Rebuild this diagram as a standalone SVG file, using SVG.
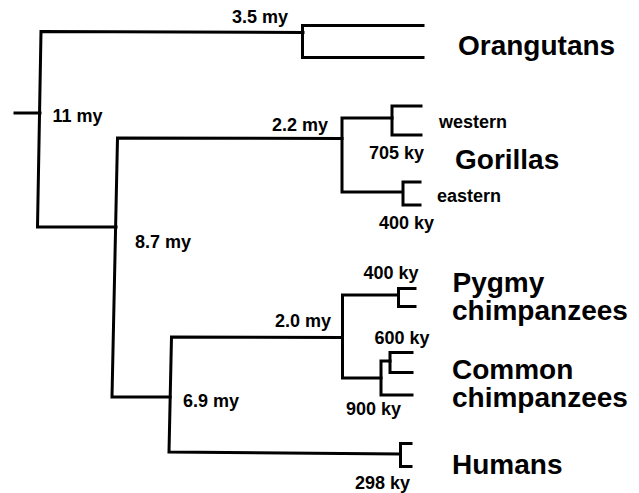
<svg xmlns="http://www.w3.org/2000/svg" width="639" height="493" viewBox="0 0 639 493">
<style>
.t{font-family:"Liberation Sans",Arial,Helvetica,sans-serif;font-weight:bold;fill:#000}
.s{font-size:18px}
.b{font-size:28px}
.ln{fill:none;stroke:#000;stroke-width:3;stroke-linejoin:miter;stroke-linecap:square}
</style>
<rect width="639" height="493" fill="#fff"/>
<g id="connectors" class="ln">
  <path d="M15,113 H40"/>
  <path d="M303,32.5 L41,31.5 L37.5,227 L116,227"/>
  <path d="M342,138.5 L117.5,138 L112,397 L170,397"/>
  <path d="M342,337.5 L171.5,337 L169,452 L400,454"/>
  <path d="M423,25.5 H302.5 V57.5 H423"/>
  <path d="M392,118 H342 V192 H402.5"/>
  <path d="M421,106 H392 V135 H421"/>
  <path d="M420,182 H403 V205 H420"/>
  <path d="M398,295 H342.5 V378 H381"/>
  <path d="M415,288.5 H398.5 V306.5 H415"/>
  <path d="M390,361 H381 V395 H412"/>
  <path d="M412,352.5 H390 V372.5 H412"/>
  <path d="M411,443.5 H400.5 V466.5 H411"/>
</g>
<g id="root"><text class="t s" x="52.5" y="122">11 my</text></g>
<g id="n35"><text class="t s" x="232" y="22.5">3.5 my</text></g>
<g id="n87"><text class="t s" x="135" y="248">8.7 my</text></g>
<g id="n22"><text class="t s" x="272" y="131">2.2 my</text></g>
<g id="n705"><text class="t s" x="369" y="158.5">705 ky</text></g>
<g id="n400g"><text class="t s" x="379" y="229">400 ky</text></g>
<g id="n69"><text class="t s" x="183" y="406.5">6.9 my</text></g>
<g id="n20"><text class="t s" x="275" y="326.5">2.0 my</text></g>
<g id="n400p"><text class="t s" x="363.5" y="278.5">400 ky</text></g>
<g id="n600"><text class="t s" x="374.5" y="343.5">600 ky</text></g>
<g id="n900"><text class="t s" x="346" y="415">900 ky</text></g>
<g id="n298"><text class="t s" x="355" y="488.5">298 ky</text></g>
<g id="orangutans"><text class="t b" x="458" y="55">Orangutans</text></g>
<g id="gorillas">
  <text class="t s" x="439" y="127.5">western</text>
  <text class="t b" x="455" y="168.5">Gorillas</text>
  <text class="t s" x="437" y="201.5">eastern</text>
</g>
<g id="pygmy"><text class="t b" x="452.5" y="292">Pygmy</text><text class="t b" x="452" y="320">chimpanzees</text></g>
<g id="common"><text class="t b" x="452" y="378.5">Common</text><text class="t b" x="452" y="407">chimpanzees</text></g>
<g id="humans"><text class="t b" x="452" y="473.5">Humans</text></g>
</svg>
